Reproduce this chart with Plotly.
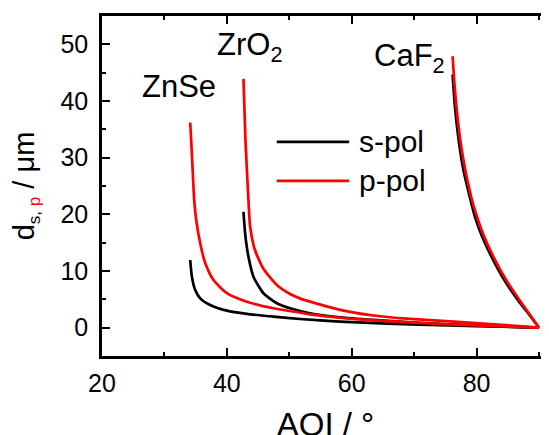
import plotly.graph_objects as go

# ---- data ----
znse_s_x = [34.13, 34.4, 34.93, 35.73, 37.33, 40.0, 43.2, 47.46, 51.7, 58.1, 65.7, 75.7, 84.0, 90.0]
znse_s_y = [11.94, 9.0, 6.65, 5.18, 4.0, 3.0, 2.42, 1.94, 1.53, 1.06, 0.72, 0.4, 0.17, 0.0]

znse_p_x = [34.13, 34.45, 34.77, 35.09, 35.73, 36.53, 37.86, 40.0, 43.2, 47.46, 51.7, 53.3, 58.1, 63.5, 69.3, 75.7, 84.0, 90.0]
znse_p_y = [36.2, 29.5, 22.5, 19.0, 14.9, 11.4, 8.4, 6.1, 4.59, 3.42, 2.65, 2.35, 1.75, 1.3, 0.92, 0.56, 0.23, 0.0]

zro2_s_x = [42.66, 42.93, 43.46, 44.26, 45.86, 48.0, 50.13, 53.33, 58.13, 63.46, 69.33, 75.73, 84.0, 90.0]
zro2_s_y = [20.46, 16.6, 12.5, 9.0, 6.07, 4.3, 3.42, 2.54, 1.83, 1.36, 0.95, 0.58, 0.24, 0.0]

zro2_p_x = [42.66, 42.98, 43.46, 43.73, 44.5, 45.86, 48.0, 50.13, 51.7, 53.33, 58.13, 63.46, 69.33, 75.73, 84.0, 90.0]
zro2_p_y = [43.9, 33.1, 22.5, 17.8, 13.7, 10.4, 7.53, 5.94, 5.17, 4.59, 3.15, 2.15, 1.55, 1.1, 0.5, 0.0]

caf2_s_x = [76.16, 76.53, 77.06, 77.86, 79.04, 79.73, 80.8, 82.4, 84.5, 86.66, 88.5, 90.0]
caf2_s_y = [44.7, 39.0, 33.7, 28.0, 22.5, 19.6, 16.3, 12.5, 8.3, 4.8, 2.2, 0.0]

caf2_p_x = [76.16, 76.53, 77.06, 77.86, 79.2, 80.0, 81.06, 82.66, 84.8, 86.93, 88.6, 90.0]
caf2_p_y = [47.9, 42.0, 36.0, 29.8, 22.8, 19.8, 16.5, 12.6, 8.3, 4.8, 2.2, 0.0]

materials = ["ZnSe", "ZrO<sub>2</sub>", "CaF<sub>2</sub>"]
label_x = [32.4, 43.6, 69.2]
label_y = [42.6, 49.6, 47.6]
legend_names = ["s-pol", "p-pol"]
colors = ["black", "#ff0000"]

FONT = "Arial, Liberation Sans, Helvetica, sans-serif"

fig = go.Figure()
s_series = [(znse_s_x, znse_s_y), (zro2_s_x, zro2_s_y), (caf2_s_x, caf2_s_y)]
p_series = [(znse_p_x, znse_p_y), (zro2_p_x, zro2_p_y), (caf2_p_x, caf2_p_y)]
for xs, ys in s_series:
    fig.add_trace(go.Scatter(x=xs, y=ys, mode="lines", line=dict(color=colors[0], width=2.7, shape="spline", smoothing=0.6), showlegend=False))
for xs, ys in p_series:
    fig.add_trace(go.Scatter(x=xs, y=ys, mode="lines", line=dict(color=colors[1], width=2.7, shape="spline", smoothing=0.6), showlegend=False))

for t, x, y in zip(materials, label_x, label_y):
    fig.add_annotation(x=x, y=y, xref="x", yref="y", text=t, showarrow=False,
                       font=dict(size=31, family=FONT, color="black"), xanchor="center", yanchor="middle")

# custom legend
leg_y = [0.630, 0.515]
for name, c, yy in zip(legend_names, colors, leg_y):
    fig.add_shape(type="line", xref="paper", yref="paper", x0=0.391, x1=0.553, y0=yy, y1=yy,
                  line=dict(color=c, width=2.8))
    fig.add_annotation(xref="paper", yref="paper", x=0.571, y=yy, text=name, showarrow=False,
                       xanchor="left", yanchor="middle", font=dict(size=30, family=FONT, color="black"))

axis_common = dict(showline=True, linecolor="black", linewidth=2.6, mirror="ticks", ticks="inside",
                   ticklen=8, tickwidth=2.4, tickcolor="black", showgrid=False, zeroline=False,
                   automargin=False,
                   tickfont=dict(size=25, family=FONT, color="black"))

fig.update_xaxes(range=[20, 91.6], tick0=20, dtick=20, ticklabelstandoff=3,
                 minor=dict(ticks="inside", dtick=10, tick0=20, ticklen=4.5, tickwidth=2.4, tickcolor="black"),
                 title=dict(text="AOI / °", font=dict(size=33, family=FONT, color="black"), standoff=19),
                 **axis_common)
fig.update_yaxes(range=[-5, 55], tick0=0, dtick=10, ticklabelstandoff=6,
                 minor=dict(ticks="inside", dtick=5, tick0=0, ticklen=4.5, tickwidth=2.4, tickcolor="black"),
                 title=dict(text="d<sub><span style='font-size:17px'>s, </span><span style='font-size:17px;color:#ff0000'>p</span></sub> / μm",
                            font=dict(size=29, family=FONT, color="black"), standoff=18),
                 **axis_common)

# the page body adds an 8 px offset; the figure is sized so the plot lands where the reference has it
fig.update_layout(width=541, height=435, margin=dict(l=94, r=0, t=8, b=87),
                  plot_bgcolor="white", paper_bgcolor="white", showlegend=False,
                  font=dict(family=FONT, color="black"))

fig.write_html("out.html")
